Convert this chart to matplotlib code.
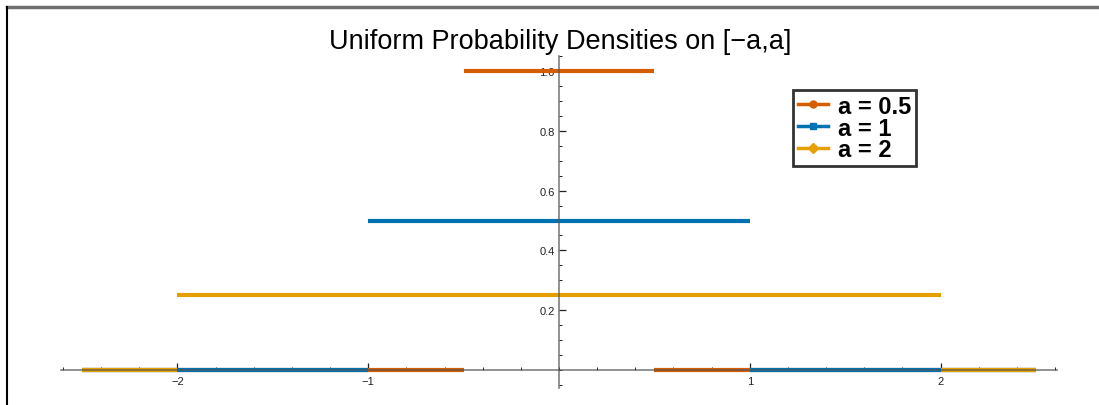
import numpy as np
import matplotlib
matplotlib.use("Agg")
import matplotlib.pyplot as plt
from matplotlib.lines import Line2D
from matplotlib.ticker import FixedLocator

plt.rcParams['font.family'] = ['Liberation Sans', 'DejaVu Sans']

### data: uniform densities on [-a,a], plotted over [-2.5, 2.5]
a_vals   = [0.5, 1.0, 2.0]
heights  = [1.0, 0.5, 0.25]
labels   = ["a = 0.5", "a = 1", "a = 2"]
x_range  = [-2.5, 2.5]
xticks   = [-2, -1, 1, 2]
yticks   = [0.2, 0.4, 0.6, 0.8, 1.0]

colors  = ["#D55E00", "#0072B2", "#E69F00"]
markers = ["o", "s", "D"]

fig = plt.figure(figsize=(10.99, 4.06), dpi=100)
ax = fig.add_axes([61/1099, 17/406, 996/1099, 332/406])

for a, h, c in zip(a_vals, heights, colors):
    # three pieces: zero, flat top, zero
    ax.plot([x_range[0], -a], [0, 0], color=c, lw=3, solid_capstyle='butt', zorder=3)
    ax.plot([-a, a], [h, h], color=c, lw=3, solid_capstyle='butt', zorder=3)
    ax.plot([a, x_range[1]], [0, 0], color=c, lw=3, solid_capstyle='butt', zorder=3)

ax.set_xlim(-2.61, 2.61)
ax.set_ylim(-0.06, 1.05)

for s in ['top', 'right']:
    ax.spines[s].set_visible(False)
ax.spines['left'].set_position(('data', 0))
ax.spines['bottom'].set_position(('data', 0))
for s in ['left', 'bottom']:
    ax.spines[s].set_color('#555555')
    ax.spines[s].set_linewidth(1.2)
    ax.spines[s].set_zorder(3.5)
    ax.spines[s].set_alpha(0.75)

ax.xaxis.set_major_locator(FixedLocator(xticks))
ax.xaxis.set_minor_locator(FixedLocator(np.arange(-2.6, 2.61, 0.2)))
ax.yaxis.set_major_locator(FixedLocator(yticks))
ax.yaxis.set_minor_locator(FixedLocator(np.arange(-0.05, 1.06, 0.05)))
ax.set_xticklabels(["\u22122", "\u22121", "1", "2"])
ax.set_yticklabels(["0.2", "0.4", "0.6", "0.8", "1.0"])

ax.tick_params(which='major', direction='in', length=5, width=0.9, color='#222222',
               labelsize=8, labelcolor='#222222', pad=4)
ax.tick_params(which='minor', direction='in', length=2.5, width=0.7, color='#222222')
ax.tick_params(axis='y', which='major', pad=3)

### legend
handles = [Line2D([], [], color=c, lw=2.5, marker=m, ms=5 if m != 's' else 4)
           for c, m in zip(colors, markers)]
leg = fig.legend(handles, labels, loc='upper left',
                 bbox_to_anchor=(793/1099, 1-91/406),
                 prop={'family': 'Liberation Sans', 'weight': 'bold', 'size': 17},
                 frameon=True, fancybox=False, handlelength=1.3, handletextpad=0.4,
                 labelspacing=-0.05, borderpad=0.2, borderaxespad=0.0)
leg.get_frame().set_edgecolor('black')
leg.get_frame().set_linewidth(2.0)

### title
fig.text(560/1099, 1-49/406, "Uniform Probability Densities on [\u2212a,a]",
         ha='center', va='baseline', fontsize=19.5, color='black')

### outer frame (screenshot edges)
fig.add_artist(Line2D([7/1099, 1.0], [1-8/406, 1-8/406], color='#707070', lw=2.5))
fig.add_artist(Line2D([7/1099, 7/1099], [0.0, 1-8/406], color='black', lw=1.5))

fig.savefig("out.png", dpi=100)
